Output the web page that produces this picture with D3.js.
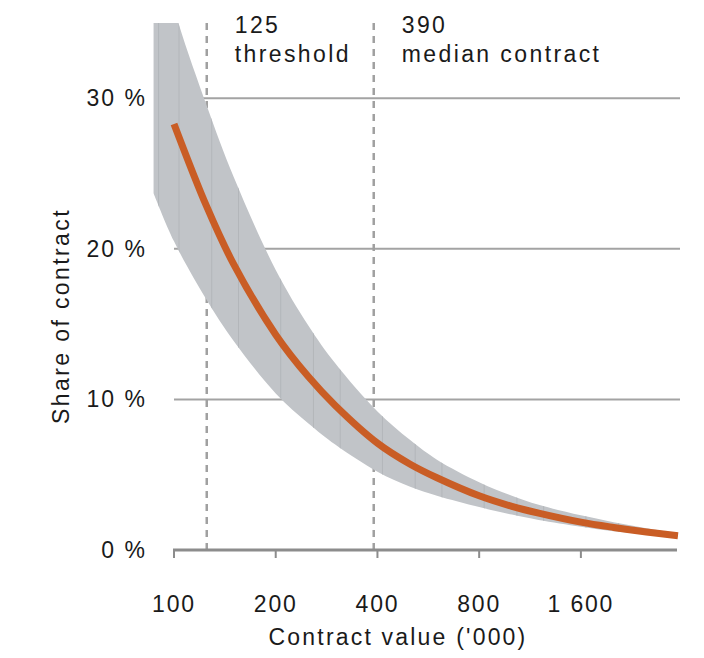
<!DOCTYPE html>
<html>
<head>
<meta charset="utf-8">
<script src="https://cdn.jsdelivr.net/npm/d3@7"></script>
<style>
  html, body { margin: 0; padding: 0; background: #ffffff; }
  svg { display: block; }
  text { font-family: "Liberation Sans", Arial, sans-serif; fill: #1a1a1a; }
</style>
</head>
<body>
<svg id="chart" width="704" height="658"></svg>
<script>
// ---- data ----
const contractValues = [87, 100, 125, 150, 200, 250, 300, 400, 500, 600, 800, 1000, 1200, 1600, 2000, 2500, 3100];
const bandUpper      = [42, 36.0, 29.5, 24.8, 18.6, 14.9, 12.4, 9.2, 7.3, 6.0, 4.5, 3.6, 3.0, 2.3, 1.85, 1.45, 1.1];
const bandLower      = [23.7, 20.5, 16.6, 13.9, 10.4, 8.4, 7.0, 5.2, 4.2, 3.6, 2.85, 2.35, 2.0, 1.55, 1.25, 1.05, 0.85];
const shareCentral   = [null, 28.3, 22.8, 19.0, 14.3, 11.5, 9.6, 7.1, 5.7, 4.8, 3.6, 2.9, 2.45, 1.85, 1.5, 1.2, 0.95];

const xTicks = [100, 200, 400, 800, 1600];
const xTickLabels = ["100", "200", "400", "800", "1 600"];
const yTicks = [0, 10, 20, 30];
const yTickLabels = ["0 %", "10 %", "20 %", "30 %"];
const gridValues = [10, 20, 30];

const markers = [125, 390];
const markerNumbers = ["125", "390"];
const markerNames = ["threshold", "median contract"];

const xTitle = "Contract value ('000)";
const yTitle = "Share of contract";

// ---- layout ----
const svg = d3.select("#chart");
const x = d3.scaleLog().base(2).domain([100, 3080]).range([174, 677]);
const y = d3.scaleLinear().domain([0, 35]).range([550, 23]);

const data = contractValues.map((v, i) => ({ v, hi: bandUpper[i], lo: bandLower[i], c: shareCentral[i] }));

svg.append("defs").append("clipPath").attr("id", "plotClip")
  .append("rect").attr("x", 0).attr("y", y(35)).attr("width", 704).attr("height", y(0) - y(35) + 10);

// gridlines
svg.append("g").selectAll("line").data(gridValues).join("line")
  .attr("x1", x(100)).attr("x2", 680)
  .attr("y1", d => y(d)).attr("y2", d => y(d))
  .attr("stroke", "#a3a3a3").attr("stroke-width", 2);

// dashed markers
svg.append("g").selectAll("line").data(markers).join("line")
  .attr("x1", d => x(d)).attr("x2", d => x(d))
  .attr("y1", y(35)).attr("y2", y(0))
  .attr("stroke", "#a0a0a0").attr("stroke-width", 2.5)
  .attr("stroke-dasharray", "7,6");

// band
const band = svg.append("g").attr("clip-path", "url(#plotClip)");
const area = d3.area()
  .x(d => x(d.v)).y0(d => y(d.lo)).y1(d => y(d.hi))
  .curve(d3.curveCatmullRom.alpha(0.5));
band.append("path").datum(data).attr("d", area).attr("fill", "#c1c4c8");

// faint internal texture lines
band.append("clipPath").attr("id", "bandClip").append("path").datum(data).attr("d", area);
const tex = band.append("g").attr("clip-path", "url(#bandClip)");
tex.selectAll("line").data(data.slice(0, -1)).join("line")
  .attr("x1", d => x(d.v) + 5).attr("x2", d => x(d.v) + 5)
  .attr("y1", 0).attr("y2", 560)
  .attr("stroke", "#b3b6ba").attr("stroke-width", 1);

// central line
const line = d3.line()
  .defined(d => d.c != null)
  .x(d => x(d.v)).y(d => y(d.c))
  .curve(d3.curveCatmullRom.alpha(0.5));
svg.append("path").datum(data).attr("d", line)
  .attr("fill", "none").attr("stroke", "#c95d25").attr("stroke-width", 7);

// x axis
const xAxis = svg.append("g");
xAxis.append("line").attr("x1", x(100) - 1).attr("x2", x(3080))
  .attr("y1", y(0)).attr("y2", y(0))
  .attr("stroke", "#8c8c8c").attr("stroke-width", 3);
xAxis.selectAll("line.tick").data(xTicks).join("line").attr("class", "tick")
  .attr("x1", d => x(d)).attr("x2", d => x(d))
  .attr("y1", y(0)).attr("y2", y(0) + 8)
  .attr("stroke", "#8c8c8c").attr("stroke-width", 2);
xAxis.selectAll("text").data(xTicks).join("text")
  .attr("x", d => x(d)).attr("y", 612)
  .attr("text-anchor", "middle")
  .attr("font-size", 23).attr("letter-spacing", 1.8)
  .text((d, i) => xTickLabels[i]);

// y labels
svg.append("g").selectAll("text").data(yTicks).join("text")
  .attr("x", 147).attr("y", d => y(d) + 8)
  .attr("text-anchor", "end")
  .attr("font-size", 23).attr("letter-spacing", 2)
  .text((d, i) => yTickLabels[i]);

// titles
svg.append("text").attr("x", 398).attr("y", 645)
  .attr("text-anchor", "middle").attr("font-size", 23).attr("letter-spacing", 2.2)
  .text(xTitle);
svg.append("text")
  .attr("transform", "translate(69,316) rotate(-90)")
  .attr("text-anchor", "middle").attr("font-size", 23).attr("letter-spacing", 2.4)
  .text(yTitle);

// marker labels
const ml = svg.append("g");
markers.forEach((m, i) => {
  const g = ml.append("text").attr("font-size", 23).attr("letter-spacing", 2.4);
  g.append("tspan").attr("x", x(m) + 28).attr("y", 33).text(markerNumbers[i]);
  g.append("tspan").attr("x", x(m) + 28).attr("y", 62).text(markerNames[i]);
});
</script>
</body>
</html>
